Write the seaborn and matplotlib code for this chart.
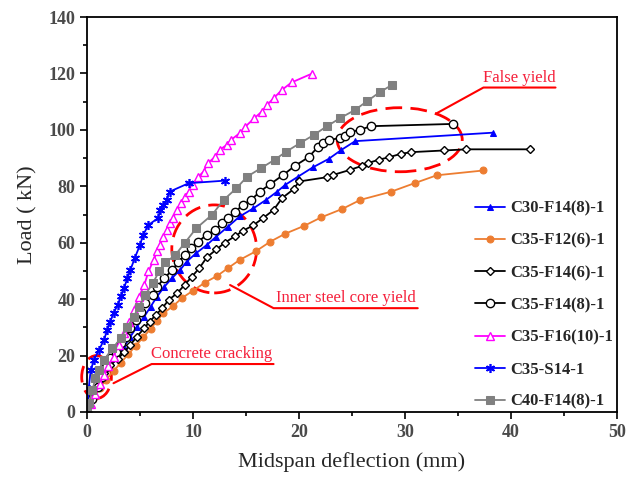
import numpy as np
import pandas as pd
import seaborn as sns
import matplotlib.pyplot as plt
from matplotlib.patches import Ellipse
from matplotlib.ticker import MultipleLocator

# Load-deflection readings (mm, kN)
c30_f14_8_x = [0, 0.35, 1.0, 1.6, 2.2, 2.9, 3.5, 4.1, 4.7, 5.4, 6.0, 6.6, 7.3, 8.0, 8.8, 9.4,
               10.3, 11.3, 12.2, 13.3, 14.4, 15.7, 16.9, 17.9, 18.7, 19.9, 21.3, 22.8, 24.0, 25.3, 38.3]
c30_f14_8_y = [0, 4.3, 9.0, 12.5, 16.1, 19.6, 23.2, 26.7, 30.2, 33.8, 37.3, 40.9, 44.4, 47.4, 50.4, 53.3,
               56.3, 59.2, 62.2, 65.7, 69.3, 72.2, 75.2, 78.0, 80.5, 83.4, 86.7, 89.7, 92.9, 96.0, 99.0]

c35_f12_6_x = [0, 0.6, 1.2, 1.8, 2.5, 3.2, 3.9, 4.6, 5.3, 6.0, 6.6, 7.2, 8.1, 9.0, 10.0, 11.1, 12.3,
               13.3, 14.4, 15.9, 17.3, 18.7, 20.5, 22.1, 24.1, 25.8, 28.7, 30.9, 33.0, 37.4]
c35_f12_6_y = [0, 4.5, 8.5, 11.5, 14.5, 17.5, 20.5, 23.5, 26.5, 29.5, 32.3, 35.0, 37.5, 40.5, 43.0, 45.8, 48.3,
               51.0, 53.9, 56.9, 60.4, 63.2, 66.0, 69.0, 72.0, 75.2, 78.1, 81.1, 83.9, 85.6]

c35_f14_6_x = [0, 0.5, 1.1, 1.6, 2.2, 2.9, 3.5, 4.1, 4.7, 5.4, 5.9, 6.5, 7.1, 7.7, 8.5, 9.2, 9.9, 10.6,
               11.3, 12.2, 13.0, 14.0, 14.7, 15.7, 16.6, 17.6, 18.4, 19.5, 20.0, 22.6, 23.2, 24.8, 25.9,
               26.5, 27.5, 28.5, 29.6, 30.6, 33.7, 35.8, 41.8]
c35_f14_6_y = [0, 6.0, 11.0, 13.7, 16.7, 18.8, 21.2, 23.8, 26.7, 29.7, 32.0, 34.4, 36.8, 39.7, 42.1, 45.0,
               48.0, 51.0, 54.8, 57.6, 60.0, 62.4, 64.2, 66.2, 68.7, 71.6, 75.8, 79.0, 81.7, 83.2, 84.0,
               85.8, 87.2, 88.2, 89.4, 90.3, 91.5, 92.1, 92.7, 93.1, 93.1]

c35_f14_8_x = [0, 0.5, 1.0, 1.4, 1.8, 2.2, 2.7, 3.2, 3.7, 4.1, 4.6, 5.1, 5.5, 6.2, 6.6, 7.3, 8.0, 8.6,
               9.2, 9.8, 10.5, 11.3, 12.1, 12.7, 13.3, 14.0, 14.7, 15.5, 16.3, 17.3, 18.5, 19.6, 20.9,
               21.8, 22.3, 22.8, 23.9, 24.3, 24.8, 25.8, 26.8, 34.5]
c35_f14_8_y = [0, 4.5, 9.0, 12.5, 16.1, 19.0, 21.4, 24.3, 26.7, 29.7, 32.6, 35.6, 38.5, 41.5, 44.4, 47.4,
               50.2, 53.0, 55.7, 58.0, 60.4, 62.8, 64.5, 66.9, 68.7, 71.0, 73.4, 75.2, 78.1, 80.8, 84.0,
               87.2, 90.3, 94.0, 95.3, 96.3, 97.2, 97.9, 99.1, 100.1, 101.3, 102.1]

c35_f16_10_x = [0, 0.4, 0.8, 1.2, 1.6, 2.0, 2.5, 3.0, 3.5, 4.0, 4.4, 4.9, 5.4, 5.8, 6.3, 6.6, 6.9, 7.2,
                7.5, 7.8, 8.1, 8.5, 8.9, 9.2, 9.6, 10.0, 10.5, 11.0, 11.4, 12.1, 12.5, 13.2, 13.6, 14.4,
                14.9, 15.8, 16.5, 17.0, 17.6, 18.4, 19.3, 21.2]
c35_f16_10_y = [0, 3.0, 6.5, 10.0, 13.0, 16.4, 19.6, 23.8, 27.9, 32.0, 36.2, 40.9, 45.0, 49.8, 54.0, 56.9,
                59.2, 62.2, 64.5, 66.9, 68.7, 71.6, 74.0, 76.3, 78.1, 80.5, 83.4, 85.2, 88.2, 90.5, 92.9,
                94.7, 96.5, 98.8, 101.0, 104.2, 106.5, 108.9, 111.2, 114.2, 116.8, 119.9]

c35_s14_x = [0, 0.15, 0.35, 0.66, 1.13, 1.6, 1.9, 2.2, 2.5, 2.9, 3.2, 3.5, 3.8, 4.1, 4.5, 5.0, 5.3,
             5.8, 6.7, 6.9, 7.2, 7.5, 7.8, 9.6, 13.0]
c35_s14_y = [0, 8.0, 14.9, 18.4, 22.0, 25.5, 29.0, 32.0, 35.0, 38.0, 41.0, 43.9, 47.4, 50.4, 54.5, 59.2,
             62.8, 66.3, 68.7, 71.6, 73.4, 75.2, 78.1, 81.1, 82.0]

c40_f14_8_x = [0, 0.2, 0.5, 0.8, 1.1, 1.6, 2.4, 3.2, 3.8, 4.4, 4.9, 5.5, 6.2, 6.8, 7.4, 8.3, 9.2, 10.3,
               11.8, 12.9, 14.1, 15.1, 16.4, 17.7, 18.8, 20.1, 21.4, 22.6, 23.9, 25.3, 26.4, 27.6, 28.8]
c40_f14_8_y = [0, 3.1, 7.8, 11.9, 14.9, 18.4, 22.6, 26.1, 30.2, 33.8, 37.3, 41.5, 45.6, 49.8, 53.0, 55.5,
               59.8, 65.1, 69.9, 75.2, 79.3, 83.4, 86.4, 89.4, 92.3, 95.3, 98.2, 101.2, 104.2, 107.1,
               110.1, 113.3, 116.0]

labels = ["C30-F14(8)-1", "C35-F12(6)-1", "C35-F14(6)-1", "C35-F14(8)-1",
          "C35-F16(10)-1", "C35-S14-1", "C40-F14(8)-1"]

sns.set_style("ticks")
plt.rcParams['font.family'] = ['Liberation Serif', 'DejaVu Serif']

fig = plt.figure(figsize=(6.27, 4.84), dpi=100)
ax = fig.add_axes([87 / 627, 72 / 484, 530 / 627, 395 / 484])

series = [
    (c30_f14_8_x, c30_f14_8_y, dict(color="#0000FF", marker="^", ms=4.5, mfc="#0000FF", mec="#0000FF")),
    (c35_f12_6_x, c35_f12_6_y, dict(color="#ED7D31", marker="o", ms=5, mfc="#ED7D31", mec="#ED7D31")),
    (c35_f14_6_x, c35_f14_6_y, dict(color="black", marker="D", ms=4, mfc="white", mec="black", mew=1.0)),
    (c35_f14_8_x, c35_f14_8_y, dict(color="black", marker="o", ms=6, mfc="white", mec="black", mew=1.0)),
    (c35_f16_10_x, c35_f16_10_y, dict(color="#FF00FF", marker="^", ms=6, mfc="white", mec="#FF00FF", mew=1.0)),
    (c35_s14_x, c35_s14_y, dict(color="#0000FF", marker=(6, 2, 0), ms=6.5, mec="#0000FF", mew=1.2)),
    (c40_f14_8_x, c40_f14_8_y, dict(color="#808080", marker="s", ms=6, mfc="#808080", mec="#808080")),
]

for (xs, ys, st), lab in zip(series, labels):
    df = pd.DataFrame({"x": xs, "y": ys})
    sns.lineplot(data=df, x="x", y="y", ax=ax, sort=False, estimator=None,
                 lw=1.3, label=lab, **st)

ax.set_xlim(0, 50)
ax.set_ylim(0, 140)
ax.xaxis.set_major_locator(MultipleLocator(10))
ax.xaxis.set_minor_locator(MultipleLocator(5))
ax.yaxis.set_major_locator(MultipleLocator(20))
ax.yaxis.set_minor_locator(MultipleLocator(10))
ax.tick_params(which="both", direction="out", top=False, right=False, width=1.2, color="black")
ax.tick_params(which="major", length=5, labelsize=13, labelcolor="#4a4a4a")
ax.tick_params(which="minor", length=3)
for lbl in ax.get_xticklabels() + ax.get_yticklabels():
    lbl.set_fontweight("bold")
for sp in ax.spines.values():
    sp.set_visible(True)
    sp.set_linewidth(1.3)
    sp.set_color("black")

ax.set_xlabel("Midspan deflection (mm)", fontsize=16, labelpad=8)
ax.set_ylabel("Load ( kN)", fontsize=16, labelpad=8)

handles, _ = ax.get_legend_handles_labels()
ax.legend(handles, labels, loc="upper left", bbox_to_anchor=(0.732, 0.535), frameon=False,
          prop={"weight": "bold", "size": 12}, handlelength=1.8, handletextpad=0.3,
          labelspacing=0.97, borderpad=0, borderaxespad=0)

# annotations
red = "#FF0000"
txt_red = "#F5213C"
dash = (0, (6, 3))
ax.add_patch(Ellipse((0.9, 12.4), 2.8, 15.2, fill=False, ec=red, lw=2, ls=dash, clip_on=False))
ax.add_patch(Ellipse((12.0, 57.8), 8.0, 31.2, fill=False, ec=red, lw=2, ls=dash))
ax.add_patch(Ellipse((29.5, 96.5), 11.8, 22.7, fill=False, ec=red, lw=2, ls=dash))

ax.plot([2.5, 6.1, 17.6], [10.2, 17.0, 17.0], color=red, lw=1.5)
ax.text(11.8, 17.6, "Concrete cracking", color=txt_red, fontsize=12, ha="center", va="bottom")

ax.plot([13.5, 17.6, 31.2], [45.0, 36.8, 36.8], color=red, lw=1.5)
ax.text(24.4, 37.4, "Inner steel core yield", color=txt_red, fontsize=12, ha="center", va="bottom")

ax.plot([33.0, 37.4, 44.2], [105.9, 115.0, 115.0], color=red, lw=1.5)
ax.text(40.8, 115.6, "False yield", color=txt_red, fontsize=12, ha="center", va="bottom")

fig.savefig("out.png", dpi=100)
